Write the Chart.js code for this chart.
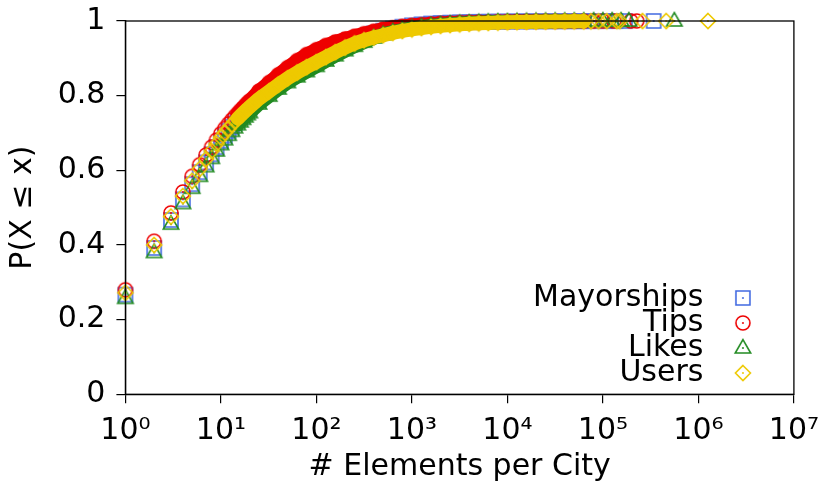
<!DOCTYPE html>
<html>
<head>
<meta charset="utf-8">
<script src="https://cdn.jsdelivr.net/npm/chart.js@4/dist/chart.umd.min.js"></script>
<style>
  html, body { margin: 0; padding: 0; background: #fff; }
  #wrap { width: 821px; height: 485px; }
</style>
</head>
<body>
<div id="wrap"><canvas id="c" width="821" height="485"></canvas></div>
<script>
// Number of elements per city (x) at which the empirical CDF is sampled.
const counts = [1, 2, 3, 4, 5, 6, 7, 8, 9, 10, 11, 12, 13, 14, 15, 16, 17, 18, 19, 20,
  25, 32, 40, 50, 63, 79, 100, 126, 158, 200, 251, 316, 398, 501, 631, 794,
  1000, 1259, 1585, 1995, 2512, 3162, 3981, 5012, 6310, 7943, 10000, 12589, 15849,
  19953, 25119, 31623, 39811, 50119, 63096];

// P(X <= x) for each series at the counts above.
const mayorships = [.267, .392, .467, .522, .563, .595, .621, .643, .662, .679, .693, .7056, .7165, .7261, .7349, .743, .7501, .7569, .7632, .7688,
  .7923, .8137, .8329, .8534, .873, .890, .9047, .918, .9296, .9396, .9482, .9575, .9667, .9739, .97975, .9846,
  .9883, .9911, .99315, .9945, .99558, .99645, .99714, .9977, .99809, .9984, .99865, .99887, .99905,
  .9992, .99934, .99946, .99956, .99964, .9997];
const tips = [.280, .410, .486, .542, .584, .615, .641, .662, .681, .698, .712, .724, .7345, .744, .752, .760, .767, .7735, .780, .786,
  .812, .835, .856, .875, .894, .910, .923, .9345, .944, .952, .959, .966, .9725, .978, .982, .9855,
  .988, .990, .992, .9935, .9946, .9955, .9962, .9969, .9974, .9979, .9982, .9985, .9988,
  .999, .9992, .9993, .9994, .9995, .9996];
const likes = [.257, .380, .456, .511, .552, .584, .610, .632, .652, .669, .682, .694, .7046, .7139, .7222, .7298, .7367, .7432, .7493, .7547,
  .7778, .7989, .818, .8351, .8506, .8646, .8785, .8930, .9070, .9205, .9325, .9435, .9545, .9635, .9705, .9759,
  .9803, .9839, .9868, .9894, .9915, .9932, .9945, .9956, .9964, .997, .9974, .9979, .9982,
  .9985, .99876, .999, .99915, .9993, .99942];
const users = [.272, .400, .476, .531, .572, .604, .630, .652, .671, .688, .701, .712, .722, .731, .739, .746, .7526, .7588, .7646, .7697,
  .7916, .8116, .8296, .8465, .862, .8765, .8900, .9035, .9165, .9290, .9400, .9485, .9557, .962, .9681, .9733,
  .9776, .9812, .9843, .9869, .9892, .9910, .9925, .9938, .9949, .9957, .9965, .9971, .9976,
  .998, .9983, .9986, .9988, .999, .99915];

// Sparse largest cities of each series.
const mayorshipsTailX = [80000, 105000, 135000, 170000, 340000];
const mayorshipsTailY = [0.9998, 0.99985, 0.9999, 0.99995, 1];
const tipsTailX = [80000, 100000, 130000, 196000, 226000];
const tipsTailY = [0.9997, 0.9998, 0.99985, 0.9999, 1];
const likesTailX = [80000, 100000, 125000, 155000, 187000, 560000];
const likesTailY = [0.9995, 0.9996, 0.9997, 0.9998, 0.9999, 1];
const usersTailX = [75000, 90000, 110000, 140000, 150000, 260000, 460000, 1260000];
const usersTailY = [0.99925, 0.9994, 0.99955, 0.9997, 0.9998, 0.99985, 0.9999, 1];

const seriesNames = ['Mayorships', 'Tips', 'Likes', 'Users'];
const xTickValues = [1, 10, 100, 1000, 10000, 100000, 1000000, 10000000];
const xTickLabels = ['10\u2070', '10\u00b9', '10\u00b2', '10\u00b3', '10\u2074', '10\u2075', '10\u2076', '10\u2077'];
const yTickValues = [0, 0.2, 0.4, 0.6, 0.8, 1];
const yTickLabels = ['0', '0.2', '0.4', '0.6', '0.8', '1'];

// Styling
const colors = ['#4169e1', '#ee0000', '#228b22', '#eec900'];
const shapes = ['square', 'circle', 'triangle', 'diamond'];
const FONT = 'DejaVu Sans';

// Hollow marker with a centre dot, used both on the plot and in the key.
function marker(shape, color) {
  const c = document.createElement('canvas');
  c.width = 22; c.height = 22;
  const g = c.getContext('2d');
  const m = 11;
  g.strokeStyle = color; g.fillStyle = color; g.lineWidth = 1.6;
  g.beginPath();
  if (shape === 'square') {
    g.rect(m - 7, m - 7, 14, 14);
  } else if (shape === 'circle') {
    g.arc(m, m, 7, 0, Math.PI * 2);
  } else if (shape === 'triangle') {
    g.moveTo(m, m - 8.3); g.lineTo(m + 7.7, m + 5); g.lineTo(m - 7.7, m + 5); g.closePath();
  } else {
    g.moveTo(m, m - 7.5); g.lineTo(m + 7.5, m); g.lineTo(m, m + 7.5); g.lineTo(m - 7.5, m); g.closePath();
  }
  g.stroke();
  g.beginPath(); g.arc(m, m, 1, 0, Math.PI * 2); g.fill();
  return c;
}

function points(vals, tailX, tailY) {
  return counts.map((x, i) => ({ x, y: vals[i] }))
    .concat(tailX.map((x, i) => ({ x, y: tailY[i] })));
}

const seriesData = [
  points(mayorships, mayorshipsTailX, mayorshipsTailY),
  points(tips, tipsTailX, tipsTailY),
  points(likes, likesTailX, likesTailY),
  points(users, usersTailX, usersTailY)
];

// Where the markers run together into a continuous band.
const BAND_FROM = counts.indexOf(15);
const BAND_TO = counts.length - 1;

const datasets = seriesData.map((data, k) => ({
  label: seriesNames[k],
  data,
  order: 4 - k,
  borderColor: colors[k],
  backgroundColor: colors[k],
  borderWidth: 14,
  borderCapStyle: 'round',
  borderJoinStyle: 'round',
  tension: 0,
  fill: false,
  clip: false,
  pointStyle: marker(shapes[k], colors[k]),
  pointRadius: 7,
  pointHoverRadius: 7,
  segment: {
    borderColor: ctx => (ctx.p0DataIndex >= BAND_FROM && ctx.p1DataIndex <= BAND_TO) ? colors[k] : 'rgba(0,0,0,0)'
  }
}));

// Key sits inside the plot, bottom right.
const keyPlacement = {
  id: 'keyPlacement',
  afterLayout(chart) {
    const lg = chart.legend;
    if (!lg) return;
    const a = chart.chartArea;
    const pad = lg.options.labels.padding;
    const boxW = lg.options.labels.pointStyleWidth;
    const markerX = a.right - 51;
    const left = markerX + boxW / 2 + pad - lg.width;
    lg.left = left;
    lg.right = left + lg.width;
    lg.top = a.top + 247;
    lg.bottom = chart.height;
  }
};

// Plot border drawn over the data.
const frame = {
  id: 'frame',
  afterDatasetsDraw(chart) {
    const { ctx, chartArea: a } = chart;
    ctx.save();
    ctx.strokeStyle = '#000';
    ctx.lineWidth = 1.3;
    ctx.strokeRect(a.left, a.top, a.right - a.left, a.bottom - a.top);
    ctx.restore();
  }
};

Chart.defaults.font.family = FONT;
Chart.defaults.font.size = 30;
Chart.defaults.color = '#000';

new Chart(document.getElementById('c'), {
  type: 'line',
  data: { datasets },
  plugins: [keyPlacement, frame],
  options: {
    responsive: false,
    animation: false,
    devicePixelRatio: 1,
    events: [],
    layout: { padding: { left: 0, right: 27.1, top: 20.7, bottom: 0 } },
    scales: {
      x: {
        type: 'logarithmic',
        min: 1,
        max: 10000000,
        afterBuildTicks: s => { s.ticks = xTickValues.map(v => ({ value: v })); },
        afterFit: s => { s.height = 90.7; s.paddingLeft = 0; s.paddingRight = 0; },
        ticks: {
          autoSkip: false,
          maxRotation: 0,
          padding: 10,
          font: { family: FONT, size: 30 },
          callback: v => xTickLabels[xTickValues.indexOf(v)]
        },
        grid: { drawOnChartArea: false, drawTicks: true, tickLength: 9, tickColor: '#000', lineWidth: 1.2 },
        border: { display: true, color: '#000', width: 1.3 },
        title: { display: true, text: '# Elements per City', font: { family: FONT, size: 30 }, padding: { top: 0, bottom: 0 } }
      },
      y: {
        type: 'linear',
        min: 0,
        max: 1,
        afterBuildTicks: s => { s.ticks = yTickValues.map(v => ({ value: v })); },
        afterFit: s => { s.width = 125.4; s.paddingTop = 0; s.paddingBottom = 0; },
        ticks: {
          padding: 11,
          font: { family: FONT, size: 30 },
          callback: v => yTickLabels[yTickValues.indexOf(v)]
        },
        grid: { drawOnChartArea: false, drawTicks: true, tickLength: 9, tickColor: '#000', lineWidth: 1.2 },
        border: { display: true, color: '#000', width: 1.3 },
        title: { display: true, text: 'P(X \u2264 x)', font: { family: FONT, size: 30 }, padding: { top: 5, bottom: 0 } }
      }
    },
    plugins: {
      tooltip: { enabled: false },
      legend: {
        position: 'chartArea',
        align: 'start',
        rtl: true,
        title: { display: true, text: '', font: { family: FONT, size: 20, lineHeight: 1 }, padding: 0 },
        labels: {
          usePointStyle: true,
          pointStyleWidth: 49,
          padding: -5,
          font: { family: FONT, size: 30 },
          color: '#000',
          sort: (a, b) => a.datasetIndex - b.datasetIndex
        }
      }
    }
  }
});
</script>
</body>
</html>
